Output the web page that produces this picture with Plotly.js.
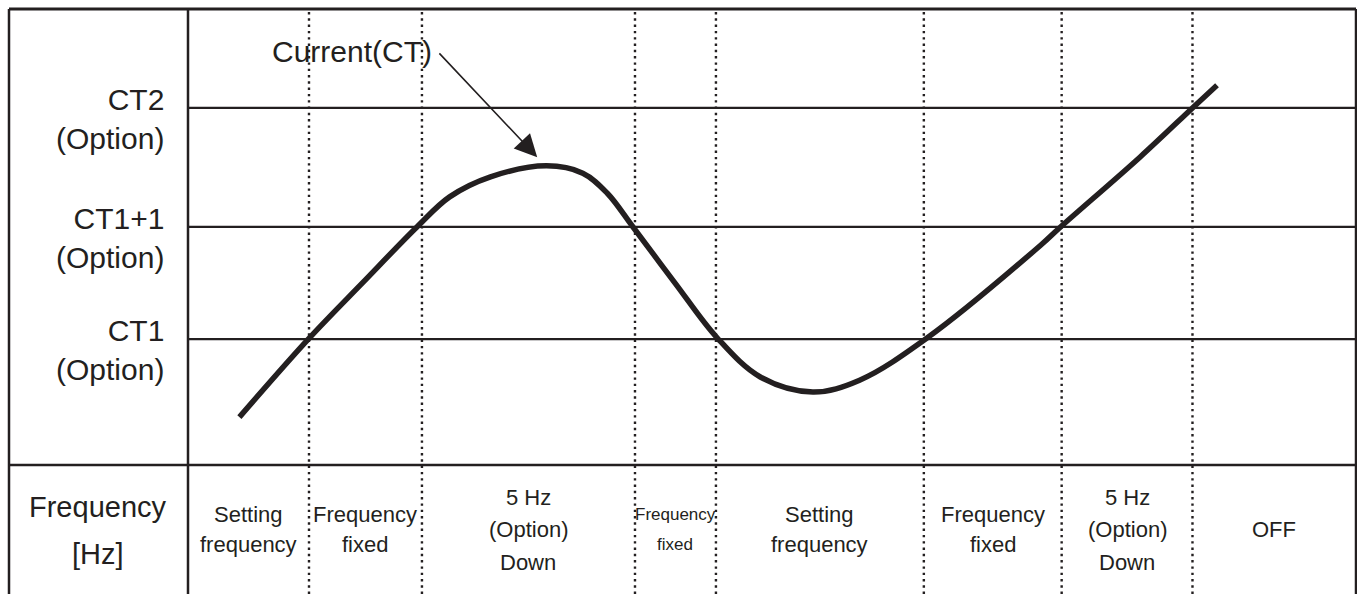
<!DOCTYPE html>
<html>
<head>
<meta charset="utf-8">
<script src="https://cdn.plot.ly/plotly-3.0.1.min.js"></script>
<style>
  html, body { margin: 0; padding: 0; background: #ffffff; }
  #chart { width: 1357px; height: 594px; }
</style>
</head>
<body>
<div id="chart"></div>
<script>
// ---- data ----
// time axis: 0..100 across the plotting region; current axis: 0..100 bottom..top
const phaseBounds = [0, 10.36, 20.03, 38.27, 45.2, 63.0, 74.8, 86.0, 100];
const phaseLabels = [
  "Setting<br>frequency",
  "Frequency<br>fixed",
  "5 Hz<br>(Option)<br>Down",
  "Frequency<br>fixed",
  "Setting<br>frequency",
  "Frequency<br>fixed",
  "5 Hz<br>(Option)<br>Down",
  "OFF"
];
const levelValues = [27.6, 52.2, 78.3];
const levelNames = ["CT1<br>(Option)", "CT1+1<br>(Option)", "CT2<br>(Option)"];
const rowHeaderLines = ["Frequency", "[Hz]"];
const curveName = "Current(CT)";
const curveT = [4.4, 10.3, 15.0, 19.6, 22.4, 25.9, 30.7, 33.8, 35.9, 38.1, 41.7, 45.3, 49.0, 53.5, 57.5, 63.3, 73.0, 74.7, 81.5, 86.0, 88.1];
const curveI = [10.5, 27.6, 40.1, 52.2, 58.8, 63.2, 65.6, 64.0, 59.6, 52.2, 39.9, 27.9, 19.3, 16.0, 18.6, 27.9, 48.2, 52.2, 67.5, 78.3, 83.3];
const arrowFrom = {t: 21.4, i: 90.6};
const arrowTo = {t: 29.9, i: 67.5};
const labelAt = {t: 14.0, i: 90.6};

// ---- layout geometry ----
const W = 1357, H = 594;
const ink = "#231f20";
const fontFam = "Liberation Sans, Arial, Helvetica, sans-serif";
const px = v => v / W;
const py = v => 1 - v / H;
const plotLeft = 188, plotRight = 1356, plotTop = 9, plotBottom = 465;

const shapes = [];
// outer frame (no bottom edge)
shapes.push({type: "line", xref: "paper", yref: "paper", x0: px(9), x1: px(1356), y0: py(plotTop), y1: py(plotTop), line: {color: ink, width: 2.8}, layer: "below"});
shapes.push({type: "line", xref: "paper", yref: "paper", x0: px(9), x1: px(9), y0: 0, y1: py(plotTop), line: {color: ink, width: 2.5}, layer: "below"});
shapes.push({type: "line", xref: "paper", yref: "paper", x0: px(1356), x1: px(1356), y0: 0, y1: py(plotTop), line: {color: ink, width: 2.5}, layer: "below"});
shapes.push({type: "line", xref: "paper", yref: "paper", x0: px(plotLeft), x1: px(plotLeft), y0: 0, y1: py(plotTop), line: {color: ink, width: 2.5}, layer: "below"});
shapes.push({type: "line", xref: "paper", yref: "paper", x0: px(9), x1: px(1356), y0: py(plotBottom), y1: py(plotBottom), line: {color: ink, width: 2.5}, layer: "below"});
// level lines
levelValues.forEach(v => {
  shapes.push({type: "line", xref: "x", yref: "y", x0: 0, x1: 100, y0: v, y1: v, line: {color: ink, width: 2.2}, layer: "below"});
});
// dotted phase boundaries
phaseBounds.slice(1, -1).forEach(b => {
  shapes.push({type: "line", xref: "x", yref: "paper", x0: b, x1: b, y0: 0, y1: py(plotTop), line: {color: ink, width: 2.4, dash: "2.4px,3.9px"}, layer: "below"});
});

const annotations = [];
// level labels
levelNames.forEach((n, k) => {
  annotations.push({xref: "paper", yref: "y", x: px(166), y: levelValues[k], xanchor: "right", yanchor: "middle", yshift: -11,
    text: n, showarrow: false, align: "right", font: {family: fontFam, size: 30, color: ink}});
});
// row header
const hdrY = [507, 554];
rowHeaderLines.forEach((t, k) => {
  annotations.push({xref: "paper", yref: "paper", x: px(98), y: py(hdrY[k]), xanchor: "center", yanchor: "middle",
    text: t, showarrow: false, font: {family: fontFam, size: 29, color: ink}});
});
// phase labels (each line placed separately for the reference's line spacing)
const pxPerUnit = (plotRight - plotLeft) / 100;
const cellMid = 529.5;
phaseLabels.forEach((t, k) => {
  const a = phaseBounds[k], b = phaseBounds[k + 1];
  const narrow = (b - a) * pxPerUnit < 100;
  const lines = t.split("<br>");
  const n = lines.length;
  const gap = n > 2 ? 32.5 : 30;
  lines.forEach((ln, j) => {
    const cy = cellMid + (j - (n - 1) / 2) * gap;
    annotations.push({xref: "x", yref: "paper", x: (a + b) / 2, y: py(cy), xanchor: "center", yanchor: "middle",
      text: ln, showarrow: false, align: "center",
      font: {family: fontFam, size: narrow ? 17 : 22, color: ink}});
  });
});
// curve label + arrow
annotations.push({xref: "x", yref: "y", x: labelAt.t, y: labelAt.i, xanchor: "center", yanchor: "middle",
  text: curveName, showarrow: false, font: {family: fontFam, size: 30, color: ink}});
annotations.push({xref: "x", yref: "y", axref: "x", ayref: "y", x: arrowTo.t, y: arrowTo.i, ax: arrowFrom.t, ay: arrowFrom.i,
  text: "", showarrow: true, arrowhead: 2, arrowsize: 2.8, arrowwidth: 1.6, arrowcolor: ink, standoff: 0});

const trace = {
  x: curveT, y: curveI, type: "scatter", mode: "lines", name: curveName,
  line: {color: ink, width: 5.5, shape: "spline", smoothing: 1},
  hoverinfo: "skip"
};

const layout = {
  width: W, height: H,
  margin: {l: 0, r: 0, t: 0, b: 0},
  paper_bgcolor: "#ffffff", plot_bgcolor: "rgba(0,0,0,0)",
  showlegend: false,
  xaxis: {domain: [px(plotLeft), px(plotRight)], range: [0, 100], showgrid: false, zeroline: false, showticklabels: false, ticks: "", showline: false, fixedrange: true},
  yaxis: {domain: [py(plotBottom), py(plotTop)], range: [0, 100], showgrid: false, zeroline: false, showticklabels: false, ticks: "", showline: false, fixedrange: true},
  shapes: shapes,
  annotations: annotations,
  font: {family: fontFam, color: ink}
};

Plotly.newPlot("chart", [trace], layout, {displayModeBar: false, staticPlot: true});
</script>
</body>
</html>
